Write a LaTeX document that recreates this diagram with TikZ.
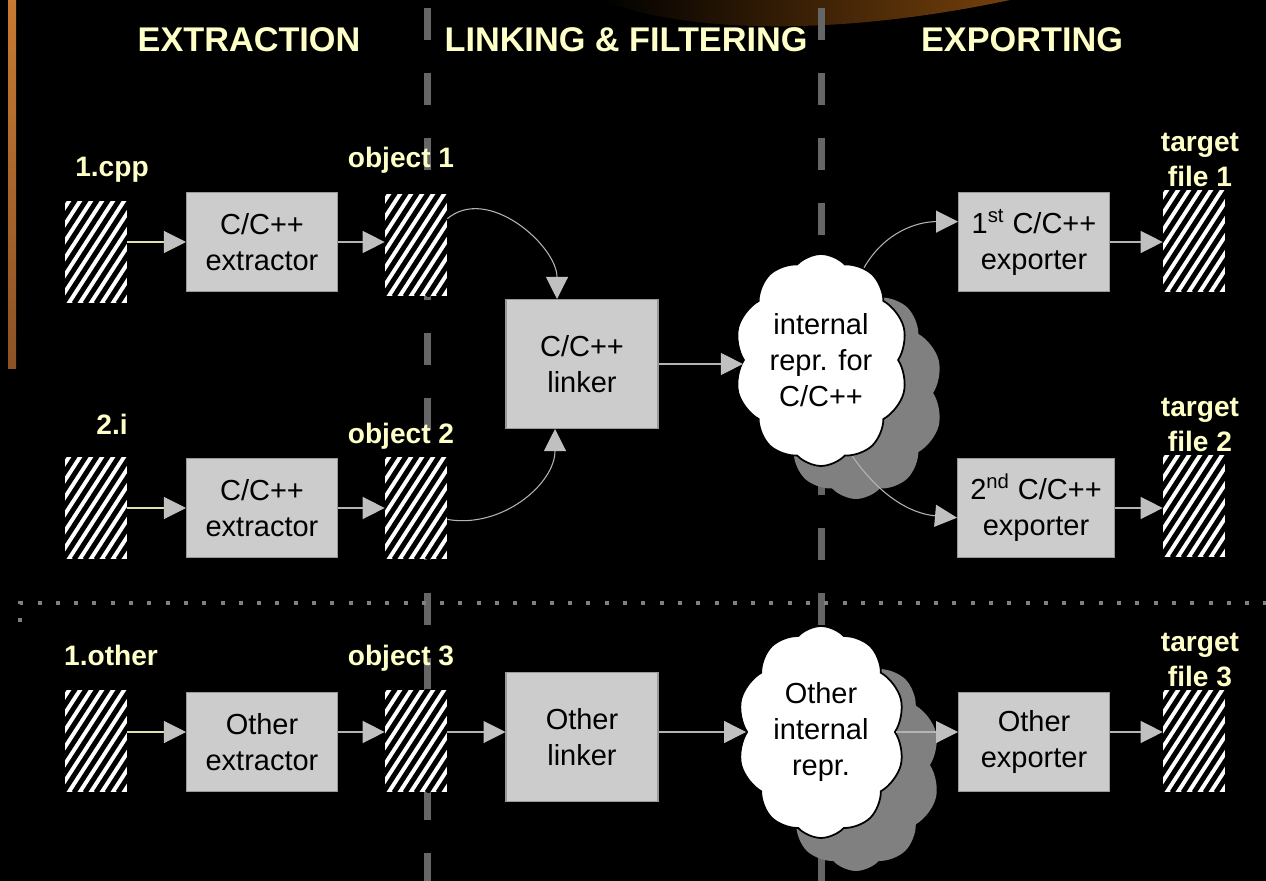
\documentclass[tikz,border=0pt]{standalone}
\usepackage{fontspec}
\setmainfont{Liberation Sans}
\usepackage{amsmath, xcolor, tikz}
\usetikzlibrary{arrows.meta, shapes.symbols, shadows}

\definecolor{cream}{HTML}{FFFFC8}
\definecolor{boxgray}{HTML}{CCCCCC}
\definecolor{tipgray}{HTML}{C0C0C0}
\definecolor{linegray}{HTML}{B4B4B4}
\definecolor{inline}{HTML}{E0E0B0}
\definecolor{dashgray}{HTML}{666666}
\definecolor{dotgray}{HTML}{808080}
\definecolor{shadegray}{HTML}{808080}
\definecolor{bartop}{HTML}{C87A32}
\definecolor{barmid}{HTML}{F8A040}
\definecolor{barbot}{HTML}{8A5224}
\definecolor{glow}{HTML}{74400C}

\begin{document}
\begin{tikzpicture}
%[scale=.5,every node/.style={font=\small}]
 [x=0.02cm,y=-0.02cm,
  head/.style={text=cream,font=\fontsize{19.5}{24}\selectfont\bfseries},
  lbl/.style={text=cream,font=\fontsize{16}{20}\selectfont\bfseries,inner sep=0,align=center},
  box/.style={draw=gray!80,fill=boxgray,line width=0.6pt,minimum width=3.02cm,minimum height=1.98cm,
    font=\fontsize{16.5}{20.5}\selectfont,align=center},
  file/.style={minimum width=1.24cm,minimum height=2.06cm,inner sep=0,fill=white,
    path picture={\foreach \k in {-10,...,3}
      \draw[black,line width=0.1cm] ([xshift=\k*0.22cm]path picture bounding box.south) -- ++(57:3.2cm);}},
  repr/.style={cloud,cloud puffs=10,cloud puff arc=95,cloud ignores aspect,draw=black,line width=1pt,
    fill=white,minimum width=3.36cm,minimum height=4.24cm,font=\fontsize{16.5}{20.5}\selectfont,align=center,
    drop shadow={shadow xshift=0.7cm,shadow yshift=-0.66cm,fill=shadegray,opacity=1}},
  flow/.style={draw=linegray,line width=0.6pt,-{Triangle[length=0.44cm,width=0.44cm,color=tipgray]}}]
  \fill[black] (0,0) rectangle (1266,881);
  \useasboundingbox (0,0) rectangle (1266,881);
  \shade[left color=black,right color=glow] (600,0) .. controls (700,38) and (860,32) .. (1010,0) -- cycle;
  \shade[top color=bartop,middle color=barmid,bottom color=barbot] (8,0) rectangle (16,368);
  \draw[dashgray,line width=0.14cm,dash pattern=on 0.64cm off 0.66cm] (427,8) -- (427,881);
  \draw[dashgray,line width=0.14cm,dash pattern=on 0.64cm off 0.66cm] (821,8) -- (821,881);
  \draw[dotgray,line width=0.08cm,dash pattern=on 0.08cm off 0.286cm] (20,622) -- (20,603) -- (1266,603);

  \node[head] (h-ext) at (249,40) {EXTRACTION};
  \node[head] (h-link) at (626,40) {LINKING \& FILTERING};
  \node[head] (h-exp) at (1022,40) {EXPORTING};

  \node[file] (ic1) at (96,252) {};
  \node[file] (ob1) at (416,245) {};
  \node[file] (tf1) at (1194,241) {};
  \node[file] (ic2) at (96,508) {};
  \node[file] (ob2) at (416,508) {};
  \node[file] (tf2) at (1194,506) {};
  \node[file] (ic3) at (96,741) {};
  \node[file] (ob3) at (416,741) {};
  \node[file] (tf3) at (1194,741) {};

  \node[lbl,anchor=base] (n-cpp) at (112,177) {1.cpp};
  \node[lbl,anchor=base] (n-ob1) at (401,168) {object 1};
  \node[lbl,anchor=south] (n-tf1) at (1200,187) {target\\file 1};
  \node[lbl,anchor=base] (n-i) at (112,434) {2.i};
  \node[lbl,anchor=base] (n-ob2) at (401,443) {object 2};
  \node[lbl,anchor=south] (n-tf2) at (1200,452) {target\\file 2};
  \node[lbl,anchor=base] (n-oth) at (111,665) {1.other};
  \node[lbl,anchor=base] (n-ob3) at (401,665) {object 3};
  \node[lbl,anchor=south] (n-tf3) at (1200,687) {target\\file 3};

  \node[box] (ex1) at (262,242) {C/C++\\extractor};
  \node[box] (ex2) at (262,508) {C/C++\\extractor};
  \node[box] (ex3) at (262,742) {Other\\extractor};
  \node[box,minimum height=2.58cm,minimum width=3.04cm] (lnk) at (582,364) {C/C++\\linker};
  \node[box,minimum height=2.58cm,minimum width=3.04cm] (lk3) at (582,737) {Other\\linker};
  \node[box] (xp1) at (1034,242) {1\textsuperscript{st} C/C++\\exporter};
  \node[box,minimum width=3.14cm] (xp2) at (1036,508) {2\textsuperscript{nd} C/C++\\exporter};
  \node[box] (xp3) at (1034,742) {Other\\exporter};

  \node[repr] (cl1) at (821,360) {internal\\repr. for\\C/C++};
  \node[repr] (cl2) at (821,732) {Other\\internal\\repr.};

  \foreach \from/\to/\row in {ic1/ex1/ex1,ic2/ex2/ex2,ic3/ex3/cl2}
    \draw[flow,draw=inline] (\from.east |- \row) -- (\to.west |- \row);
  \foreach \from/\to/\row in {ex1/ob1/ex1,xp1/tf1/xp1,ex2/ob2/ex2,xp2/tf2/xp2,ex3/ob3/cl2,ob3/lk3/cl2,lk3/cl2/cl2,cl2/xp3/cl2,xp3/tf3/cl2}
    \draw[flow] (\from.east |- \row) -- (\to.west |- \row);
  \draw[flow] (lnk.east) -- (cl1.west |- lnk);
  \draw[flow] (ob1.40) to[out=40,in=90] ([xshift=-0.5cm]lnk.north);
  \draw[flow] (ob2.-20) to[out=-10,in=-90] ([xshift=-0.54cm]lnk.south);
  \draw[flow] (cl1.65) to[out=60,in=180] (xp1.165);
  \draw[flow] (cl1.-72) to[out=-55,in=175] (xp2.187);
\end{tikzpicture}
\end{document}
